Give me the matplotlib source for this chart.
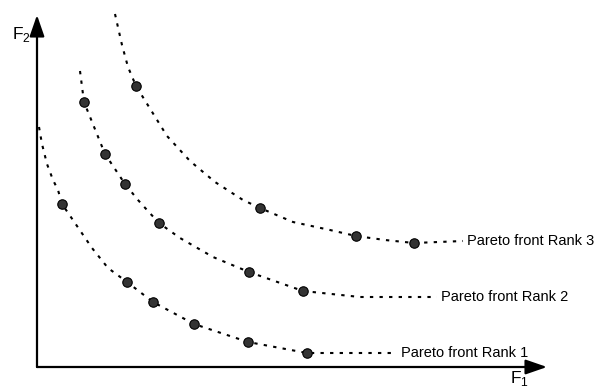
import matplotlib.pyplot as plt
from matplotlib.patches import FancyArrowPatch

plt.rcParams['font.family'] = ['Liberation Sans', 'DejaVu Sans']
plt.rcParams['mathtext.fontset'] = 'custom'
plt.rcParams['mathtext.rm'] = 'Liberation Sans'

# solutions on each front (F1, F2)
rank1_f1 = [25, 90, 116, 157, 211, 270]
rank1_f2 = [163, 85, 65, 43, 25, 14]
rank2_f1 = [47, 68, 88, 122, 212, 266]
rank2_f2 = [265, 213, 183, 144, 95, 76]
rank3_f1 = [99, 223, 319, 377]
rank3_f2 = [281, 159, 131, 124]

# the dotted fronts themselves
front1_f1 = [2, 5, 10, 16, 21, 25, 55, 71, 90, 116, 157, 211, 270, 313, 360]
front1_f2 = [240, 223, 203, 187, 177, 163, 119, 99, 85, 65, 43, 25, 14, 14, 14]
front2_f1 = [43, 47, 68, 88, 101, 110, 122, 143, 176, 212, 266, 323, 400]
front2_f2 = [296, 265, 213, 183, 167, 157, 144, 129, 110, 95, 76, 70, 70]
front3_f1 = [78, 85, 91, 99, 130, 153, 178, 206, 223, 256, 293, 319, 348, 377, 426]
front3_f2 = [353, 322, 300, 281, 231, 206, 185, 167, 159, 145, 137, 131, 127, 124, 126]

fronts = [
    (front1_f1, front1_f2, rank1_f1, rank1_f2, "Pareto front Rank 1"),
    (front2_f1, front2_f2, rank2_f1, rank2_f2, "Pareto front Rank 2"),
    (front3_f1, front3_f2, rank3_f1, rank3_f2, "Pareto front Rank 3"),
]

fig = plt.figure(figsize=(5.97, 3.87), dpi=100)
ax = fig.add_axes([0, 0, 1, 1])
ax.set_xlim(-37, 560)
ax.set_ylim(-20, 367)
ax.axis("off")

for fx, fy, px, py, label in fronts:
    ax.plot(fx, fy, color="black", linewidth=1.5, linestyle=(0, (1.6, 3.0)),
            solid_capstyle="butt", dash_capstyle="butt")
    ax.plot(px, py, "o", markersize=6.8, markerfacecolor="#333333",
            markeredgecolor="black", markeredgewidth=0.8, zorder=3)
    ax.text(fx[-1] + 4, fy[-1], label, fontsize=10.5, va="center", ha="left")

# axes arrows
style = "-|>,head_length=1.3,head_width=0.45"
ax.add_patch(FancyArrowPatch((0, 0), (510, 0), arrowstyle=style, mutation_scale=10,
                             color="black", linewidth=1.6, shrinkA=0, shrinkB=0))
ax.add_patch(FancyArrowPatch((0, 0), (0, 352), arrowstyle=style, mutation_scale=10,
                             color="black", linewidth=1.6, shrinkA=0, shrinkB=0))

ax.text(-25, 333, r"$\mathrm{F}_2$", fontsize=12.5, ha="left", va="center")
ax.text(473, -11, r"$\mathrm{F}_1$", fontsize=12.5, ha="left", va="center")

fig.savefig("out.png", dpi=100)
